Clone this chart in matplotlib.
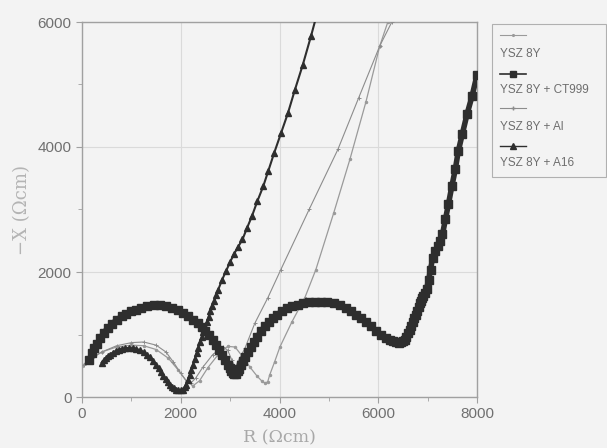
import matplotlib
matplotlib.use("Agg")
import matplotlib.pyplot as plt
from matplotlib.lines import Line2D
from matplotlib.patches import Rectangle

# ---------------- data ----------------
labels = ["YSZ 8Y", "YSZ 8Y + CT999", "YSZ 8Y + Al", "YSZ 8Y + A16"]

ysz_x = [0, 150, 400, 700, 1000, 1250, 1500, 1750, 1950, 2120, 2250, 2380, 2550, 2750,
         2950, 3100, 3250, 3400, 3550, 3650, 3700, 3760, 3800, 3900, 4008, 4250, 4514,
         4737, 5100, 5425, 5750, 6032, 6194, 6300]
ysz_y = [500, 600, 720, 800, 830, 820, 760, 620, 430, 250, 180, 260, 470, 670,
         810, 800, 650, 480, 330, 250, 225, 240, 350, 560, 800, 1200, 1590,
         2040, 2950, 3800, 4720, 5620, 6000, 6250]

ct_x = [150, 200, 250, 300, 370, 440, 520, 600, 700, 800, 900, 1000, 1100, 1200, 1320,
        1450, 1570, 1700, 1820, 1950, 2050, 2150, 2250, 2350, 2430, 2500, 2580, 2650,
        2720, 2780, 2840, 2900, 2950, 2990, 3020, 3050, 3080, 3110, 3150, 3180, 3220,
        3260, 3310, 3360, 3420, 3480, 3550, 3620, 3700, 3780, 3860, 3950, 4050, 4150,
        4260, 4370, 4480, 4600, 4720, 4840, 4970, 5100, 5220, 5350, 5450, 5550, 5650,
        5750, 5850, 5950, 6050, 6150, 6230, 6300, 6360, 6420, 6460, 6500, 6540, 6570,
        6610, 6640, 6670, 6700, 6730, 6760, 6790, 6820, 6850, 6870, 6890, 6910, 6940,
        6980, 7020, 7060, 7100, 7150, 7200, 7250, 7300, 7360, 7420, 7490, 7560, 7620,
        7700, 7800, 7900, 8000]
ct_y = [600, 700, 780, 850, 940, 1030, 1100, 1170, 1230, 1290, 1330, 1370, 1400, 1430,
        1460, 1480, 1475, 1460, 1430, 1390, 1350, 1300, 1240, 1180, 1120, 1060, 990, 910,
        830, 750, 670, 590, 520, 460, 420, 380, 365, 370, 410, 450, 510,
        570, 640, 720, 800, 880, 960, 1050, 1130, 1200, 1260, 1320, 1370, 1420,
        1450, 1480, 1500, 1515, 1522, 1525, 1515, 1500, 1465, 1420, 1370, 1320, 1260,
        1200, 1130, 1060, 1000, 950, 915, 890, 875, 870, 875, 890, 920, 960,
        1020, 1080, 1140, 1200, 1260, 1320, 1380, 1440, 1500, 1540, 1580, 1610, 1670,
        1730, 1880, 2040, 2230, 2330, 2410, 2500, 2600, 2840, 3080, 3370, 3640, 3930,
        4200, 4530, 4815, 5150]

al_x = [50, 200, 400, 700, 1000, 1250, 1500, 1700, 1850, 2000, 2120, 2200, 2300, 2450,
        2650, 2850, 2950, 3030, 3100, 3180, 3300, 3500, 3765, 4028, 4600, 5182, 5600,
        6032, 6275, 6400]
al_y = [520, 620, 720, 820, 870, 880, 830, 720, 560, 380, 250, 220, 300, 480,
        680, 800, 750, 600, 470, 600, 780, 1180, 1590, 2040, 3000, 3960, 4780,
        5620, 6000, 6250]

a16_x = [400, 440, 480, 520, 570, 620, 680, 740, 800, 870, 950, 1030, 1100, 1170, 1250,
         1320, 1380, 1440, 1500, 1550, 1600, 1650, 1700, 1740, 1780, 1820, 1860, 1900,
         1950, 2000, 2040, 2080, 2110, 2145, 2180, 2215, 2250, 2285, 2320, 2355, 2390,
         2425, 2460, 2495, 2530, 2565, 2600, 2640, 2680, 2720, 2760, 2840, 2920, 3000,
         3080, 3160, 3250, 3340, 3440, 3550, 3670, 3770, 3890, 4030, 4170, 4310, 4470,
         4640, 4800]
a16_y = [550, 590, 620, 650, 680, 710, 735, 755, 770, 780, 785, 780, 770, 750, 720,
         680, 640, 580, 520, 460, 400, 340, 290, 240, 200, 165, 140, 120,
         110, 110, 120, 160, 200, 270, 350, 435, 520, 610, 700, 790, 880,
         960, 1040, 1120, 1200, 1285, 1370, 1455, 1540, 1630, 1720, 1880, 2020, 2160,
         2290, 2400, 2520, 2700, 2890, 3130, 3370, 3610, 3900, 4220, 4540, 4910, 5310,
         5780, 6250]

x_ticks = [0, 2000, 4000, 6000, 8000]
y_ticks = [0, 2000, 4000, 6000]

# ---------------- figure ----------------
W, H = 607, 448
bg = "#f3f3f3"
fig = plt.figure(figsize=(W / 100, H / 100), dpi=100, facecolor=bg)
ax = fig.add_axes([82 / W, 1 - 397 / H, (477 - 82) / W, (397 - 22) / H], facecolor=bg)

dark = "#2e2e2e"
light1 = "#9a9a9a"
light2 = "#8c8c8c"

ax.plot(ysz_x, ysz_y, color=light1, lw=0.9, marker=".", ms=3, zorder=3)
ax.plot(al_x, al_y, color=light2, lw=0.8, marker="+", ms=3, mew=0.7, zorder=3)
ax.plot(ct_x, ct_y, color=dark, lw=4, marker="s", ms=5.5, zorder=4)
ax.plot(a16_x, a16_y, color=dark, lw=1.5, marker="^", ms=5, zorder=4)

ax.set_xlim(0, 8000)
ax.set_ylim(0, 6000)
ax.set_xticks(x_ticks)
ax.set_yticks(y_ticks)
ax.set_xticks([1000, 3000, 5000, 7000], minor=True)
ax.set_yticks([1000, 3000, 5000], minor=True)
ax.grid(True, which="major", color="#dadada", lw=0.8)
for s in ax.spines.values():
    s.set_color("#a0a0a0")
    s.set_linewidth(1.0)
ax.tick_params(which="both", colors="#a0a0a0", labelcolor="#707070", labelsize=11,
               direction="out", length=4)
ax.tick_params(which="minor", length=3)
for lab in ax.get_xticklabels() + ax.get_yticklabels():
    lab.set_family("Liberation Sans")

ax.set_xlabel("R (Ωcm)", family="DejaVu Serif", fontsize=12.5, color="#a8a8a8", labelpad=6)
ax.set_ylabel("−X (Ωcm)", family="DejaVu Serif", fontsize=13, color="#b4b4b4", labelpad=5)

# ---------------- legend (drawn manually) ----------------
def fx(px):
    return px / W

def fy(py):
    return 1 - py / H

fig.patches.append(Rectangle((fx(492), fy(177)), fx(606) - fx(492), fy(24) - fy(177),
                             transform=fig.transFigure, fill=False, ec="#b0b0b0", lw=0.8))
entries = [
    (35, 54, light1, ".", 2.5, 0.8),
    (74, 90, dark, "s", 5, 1.2),
    (108, 127, light2, "+", 3, 0.8),
    (146, 163, dark, "^", 5, 1.0),
]
for (ly, ty, col, mk, ms, lw), lab in zip(entries, labels):
    fig.add_artist(Line2D([fx(500), fx(526)], [fy(ly), fy(ly)], transform=fig.transFigure,
                          color=col, lw=lw))
    fig.add_artist(Line2D([fx(513)], [fy(ly)], transform=fig.transFigure, color=col,
                          marker=mk, ms=ms, lw=0))
    fig.text(fx(500), fy(ty), lab, fontsize=8.5, color="#6e6e6e", va="center",
             ha="left", family="Liberation Sans")

fig.savefig("out.png", dpi=100, facecolor=bg)
